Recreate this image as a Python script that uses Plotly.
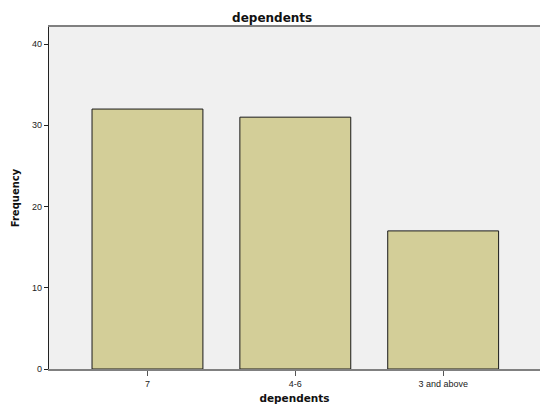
import plotly.graph_objects as go

categories = ["7", "4-6", "3 and above"]
frequency = [32, 31, 17]
y_ticks = [0, 10, 20, 30, 40]

title_font = "DejaVu Sans, Verdana, sans-serif"

fig = go.Figure(go.Bar(
    x=categories, y=frequency,
    marker=dict(color="#d3ce98", line=dict(color="#1a1a1a", width=1)),
    width=0.75,
))

fig.update_layout(
    width=540, height=404,
    margin=dict(l=49, r=0, t=27, b=35, autoexpand=False),
    paper_bgcolor="white", plot_bgcolor="#f0f0f0",
    font=dict(family="Liberation Sans, Arial", size=9, color="#222"),
    title=dict(text="<b>dependents</b>", x=0.504, xanchor="center", y=0.967, yanchor="top",
               font=dict(family=title_font, size=12, color="#111")),
    showlegend=False,
    bargap=0.25,
)
fig.update_xaxes(
    type="category", range=[-0.666, 2.655],
    showline=True, linecolor="#808080", linewidth=1.5, mirror=True,
    ticks="outside", ticklen=5, tickcolor="#555", tickwidth=1,
    showgrid=False,
    title=dict(text="<b>dependents</b>", font=dict(family=title_font, size=10.5, color="#111"),
               standoff=13),
)
fig.update_yaxes(
    range=[0, 42.1], tickvals=y_ticks,
    showline=True, linecolor="#222", linewidth=1.2,
    ticks="outside", ticklen=4, tickcolor="#222",
    showgrid=False, zeroline=False,
    title=dict(text="<b>Frequency</b>", font=dict(family=title_font, size=10, color="#111"),
               standoff=10),
)

fig.write_html(
    "out.html",
    config={"displayModeBar": False},
    post_script="document.body.style.margin='0';document.body.style.overflow='hidden';",
)
